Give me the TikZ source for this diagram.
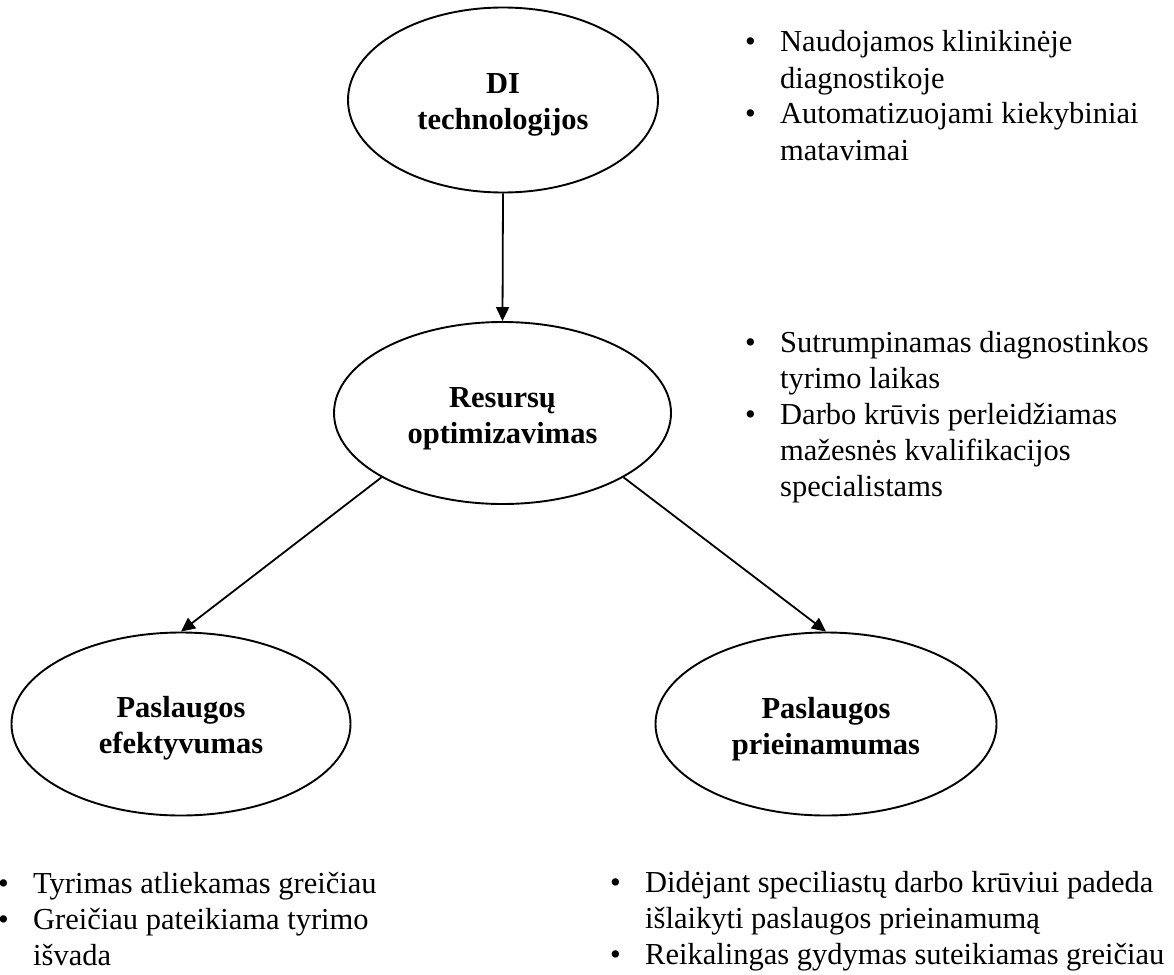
\documentclass[tikz,border=0pt]{standalone}
\usepackage{fontspec}
\setmainfont{Liberation Serif}
\usetikzlibrary{shapes.geometric,arrows.meta}
\begin{document}
\begin{tikzpicture}[x=1pt,y=-1pt,
  oval/.style={ellipse, draw, line width=1.9pt, inner sep=0pt, align=center,
    font=\fontsize{30.5}{36}\selectfont\bfseries},
  conn/.style={-{Triangle[length=14pt,width=13pt]}, line width=1.8pt},
  lst/.style={anchor=base west, inner sep=0pt, font=\fontsize{30.5}{36}\selectfont}]
\path[fill=white, use as bounding box] (0,0) rectangle (1174,974);

\node[oval, minimum width=310pt, minimum height=185pt] (e1) at (503,100)
  {\rule{0pt}{1em}DI\\technologijos};
\node[oval, minimum width=337pt, minimum height=182pt] (e2) at (502.5,413)
  {\rule{0pt}{1em}Resursų\\optimizavimas};
\node[oval, minimum width=339pt, minimum height=183pt] (e3) at (181,724)
  {\rule{0pt}{1em}Paslaugos\\efektyvumas};
\node[oval, minimum width=341pt, minimum height=183pt] (e4) at (826,724)
  {\rule{0pt}{1em}Paslaugos\\prieinamumas};

\draw[conn] (e1.south) -- (e2.north);
\draw[conn] (e2.208) -- (e3.north);
\draw[conn] (e2.332) -- (e4.north);

\node[lst] (t1) at (745,52) {\begin{tabular}[t]{@{}p{35pt}@{}l@{}}
\textbullet & Naudojamos klinikinėje\\
 & diagnostikoje\\
\textbullet & Automatizuojami kiekybiniai\\
 & matavimai
\end{tabular}};

\node[lst] (t2) at (745,352) {\begin{tabular}[t]{@{}p{35pt}@{}l@{}}
\textbullet & Sutrumpinamas diagnostinkos\\
 & tyrimo laikas\\
\textbullet & Darbo krūvis perleidžiamas\\
 & mažesnės kvalifikacijos\\
 & specialistams
\end{tabular}};

\node[lst] (t3) at (-2,893) {\begin{tabular}[t]{@{}p{35pt}@{}l@{}}
\textbullet & Tyrimas atliekamas greičiau\\
\textbullet & Greičiau pateikiama tyrimo\\
 & išvada
\end{tabular}};

\node[lst] (t4) at (610,892) {\begin{tabular}[t]{@{}p{35pt}@{}l@{}}
\textbullet & Didėjant speciliastų darbo krūviui padeda\\
 & išlaikyti paslaugos prieinamumą\\
\textbullet & Reikalingas gydymas suteikiamas greičiau
\end{tabular}};
\end{tikzpicture}
\end{document}
